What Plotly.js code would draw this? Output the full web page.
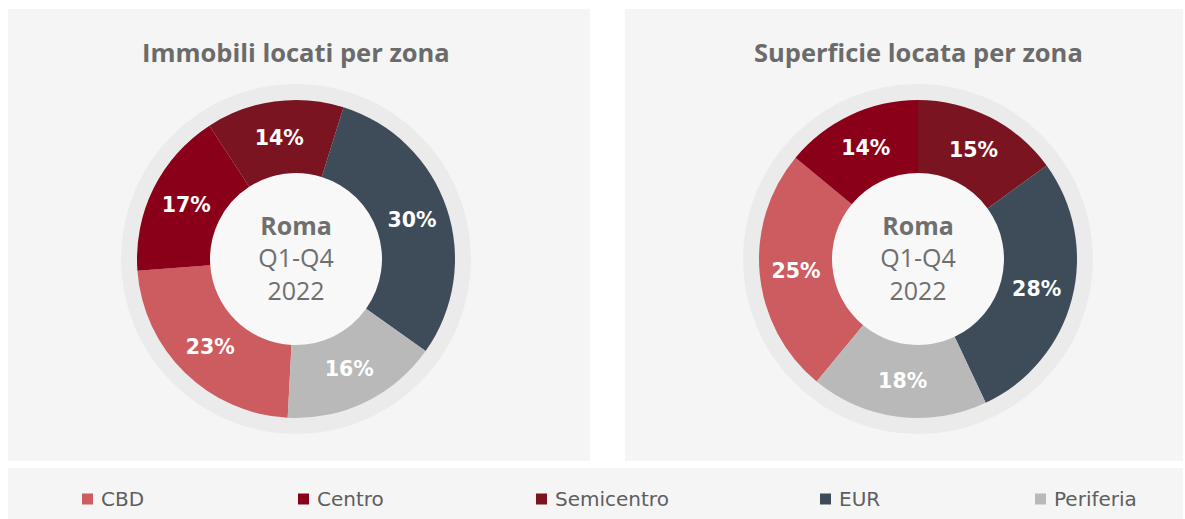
<!DOCTYPE html>
<html>
<head>
<meta charset="utf-8">
<script src="https://cdn.plot.ly/plotly-3.0.1.min.js"></script>
<style>
html,body{margin:0;padding:0;background:#ffffff;}
#chart{width:1185px;height:519px;}
</style>
</head>
<body>
<div id="chart"></div>
<script>
// ---- data ----
const categories = ['CBD', 'Centro', 'Semicentro', 'EUR', 'Periferia'];
const immobiliLocati = [23, 17, 14, 30, 16];      // % per zona
const superficieLocata = [25, 14, 15, 28, 18];    // % per zona
const chartTitles = ['Immobili locati per zona', 'Superficie locata per zona'];
const centerLines = ['Roma', 'Q1-Q4', '2022'];

// ---- styles ----
const colors = ['#cd5c60', '#8b0019', '#7b1421', '#3e4b59', '#b9b9b9'];
const W = 1185, H = 519;
const donuts = [
  {cx: 296, cy: 259, r: 159, rotation: 183},
  {cx: 918, cy: 259, r: 159, rotation: 219.6}
];
const holeR = 86, ringR = 175;
const legendX = [82, 298, 536, 820, 1035];
const legendY = 499;

function px(x){ return x / W; }
function py(y){ return (H - y) / H; }

const series = [immobiliLocati, superficieLocata];
const centerText = '<b>' + centerLines[0] + '</b><br>' + centerLines.slice(1).join('<br>');

const traces = series.map((vals, i) => {
  const d = donuts[i];
  return {
    type: 'pie',
    labels: categories,
    values: vals,
    sort: false,
    direction: 'clockwise',
    rotation: d.rotation,
    hole: holeR / d.r,
    marker: {colors: colors, line: {width: 0}},
    texttemplate: '%{value}%',
    textposition: 'inside',
    insidetextorientation: 'horizontal',
    textfont: {family: 'DejaVu Sans', size: 20.5, color: '#ffffff', weight: 'bold'},
    title: {text: centerText, position: 'middle center',
            font: {family: 'Open Sans', size: 25, color: '#6f6f6f'}},
    domain: {x: [px(d.cx - d.r), px(d.cx + d.r)], y: [py(d.cy + d.r), py(d.cy - d.r)]},
    showlegend: false,
    hoverinfo: 'label+percent'
  };
});

const shapes = [
  // panels
  {type: 'rect', xref: 'paper', yref: 'paper', x0: px(8), x1: px(590), y0: py(461), y1: py(9),
   fillcolor: '#f5f5f5', line: {width: 0}, layer: 'below'},
  {type: 'rect', xref: 'paper', yref: 'paper', x0: px(625), x1: px(1183), y0: py(461), y1: py(9),
   fillcolor: '#f5f5f5', line: {width: 0}, layer: 'below'},
  {type: 'rect', xref: 'paper', yref: 'paper', x0: px(8), x1: px(1183), y0: py(519), y1: py(468),
   fillcolor: '#f5f5f5', line: {width: 0}, layer: 'below'}
];
donuts.forEach(d => {
  shapes.push({type: 'circle', xref: 'paper', yref: 'paper',
    x0: px(d.cx - ringR), x1: px(d.cx + ringR), y0: py(d.cy + ringR), y1: py(d.cy - ringR),
    fillcolor: '#ebebeb', line: {width: 0}, layer: 'below'});
  shapes.push({type: 'circle', xref: 'paper', yref: 'paper',
    x0: px(d.cx - holeR), x1: px(d.cx + holeR), y0: py(d.cy + holeR), y1: py(d.cy - holeR),
    fillcolor: '#f8f8f8', line: {width: 0}, layer: 'below'});
});
// legend keys
categories.forEach((c, i) => {
  shapes.push({type: 'rect', xref: 'paper', yref: 'paper',
    x0: px(legendX[i]), x1: px(legendX[i] + 11), y0: py(legendY + 5.5), y1: py(legendY - 5.5),
    fillcolor: colors[i], line: {width: 0}, layer: 'above'});
});

const annotations = chartTitles.map((t, i) => ({
  text: t, xref: 'paper', yref: 'paper', x: px(donuts[i].cx), y: py(52),
  xanchor: 'center', yanchor: 'middle', showarrow: false,
  font: {family: 'Open Sans', size: 25.5, color: '#6b6b6b', weight: 'bold'}
}));
categories.forEach((c, i) => {
  annotations.push({text: c, xref: 'paper', yref: 'paper', x: px(legendX[i] + 17), y: py(legendY),
    xanchor: 'left', yanchor: 'middle', showarrow: false,
    font: {family: 'DejaVu Sans', size: 20, color: '#5e5e5e'}});
});

const layout = {
  width: W, height: H,
  margin: {l: 0, r: 0, t: 0, b: 0},
  paper_bgcolor: '#ffffff',
  plot_bgcolor: '#ffffff',
  showlegend: false,
  shapes: shapes,
  annotations: annotations
};

Plotly.newPlot('chart', traces, layout, {displayModeBar: false, staticPlot: true});
</script>
</body>
</html>
